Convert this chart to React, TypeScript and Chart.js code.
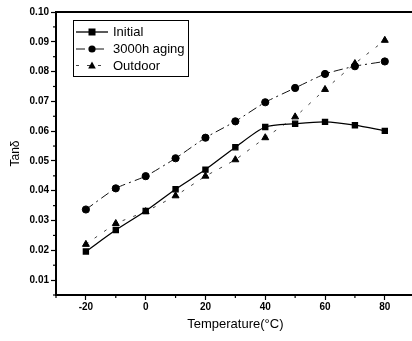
import React, { useEffect, useRef } from "react";
import { Chart, registerables } from "chart.js";
Chart.register(...registerables);

const temperatures = [-20, -10, 0, 10, 20, 30, 40, 50, 60, 70, 80];
const initialValues = [0.0196, 0.0268, 0.0332, 0.0405, 0.0471, 0.0546, 0.0614, 0.0625, 0.0631, 0.062, 0.0601];
const agingValues = [0.0337, 0.0408, 0.0449, 0.0509, 0.0578, 0.0633, 0.0697, 0.0745, 0.0792, 0.0818, 0.0834];
const outdoorValues = [0.022, 0.029, 0.033, 0.0383, 0.0449, 0.0504, 0.0578, 0.0648, 0.074, 0.0827, 0.0905];
const seriesLabels = ["Initial", "3000h aging", "Outdoor"];
const xTitle = "Temperature(\u00B0C)";
const yTitle = "Tan\u03B4";

const FONT = "'Liberation Sans', Arial, sans-serif";

function drawMarker(ctx: CanvasRenderingContext2D, style: string, x: number, y: number) {
  ctx.fillStyle = "#000";
  ctx.beginPath();
  if (style === "rect") {
    ctx.rect(x - 3.5, y - 3.5, 7, 7);
  } else if (style === "circle") {
    ctx.arc(x, y, 3.6, 0, Math.PI * 2);
  } else {
    ctx.moveTo(x, y - 4);
    ctx.lineTo(x + 3.8, y + 3);
    ctx.lineTo(x - 3.8, y + 3);
    ctx.closePath();
  }
  ctx.fill();
}

const framePlugin = {
  id: "frame",
  afterDraw(chart: any) {
    const ctx = chart.ctx as CanvasRenderingContext2D;
    const { left, right, top, bottom } = chart.chartArea;
    ctx.save();
    ctx.strokeStyle = "#000";
    ctx.lineWidth = 2;
    ctx.beginPath();
    ctx.moveTo(left, top);
    ctx.lineTo(right + 5, top);
    ctx.stroke();
    ctx.lineWidth = 1.2;
    const xs = chart.scales.x;
    xs.ticks.forEach((t: any) => {
      if (Math.round(t.value) % 20 !== 0) {
        const px = xs.getPixelForValue(t.value);
        ctx.beginPath();
        ctx.moveTo(px, bottom);
        ctx.lineTo(px, bottom + 3);
        ctx.stroke();
      }
    });
    const ys = chart.scales.y;
    ys.ticks.forEach((t: any) => {
      if (Math.round(t.value * 1000) % 10 !== 0) {
        const py = ys.getPixelForValue(t.value);
        ctx.beginPath();
        ctx.moveTo(left, py);
        ctx.lineTo(left - 3, py);
        ctx.stroke();
      }
    });
    const bx = 73.5, by = 20.5, bw = 115, bh = 56;
    ctx.lineWidth = 1;
    ctx.strokeStyle = "#000";
    ctx.strokeRect(bx, by, bw, bh);
    const rows = [32, 49, 65.5];
    chart.data.datasets.forEach((ds: any, i: number) => {
      const y = rows[i];
      ctx.save();
      ctx.strokeStyle = ds.borderColor;
      ctx.lineWidth = ds.borderWidth;
      ctx.setLineDash(ds.borderDash || []);
      ctx.beginPath();
      ctx.moveTo(76, y);
      ctx.lineTo(108, y);
      ctx.stroke();
      ctx.restore();
      drawMarker(ctx, ds.pointStyle, 92, y);
      ctx.fillStyle = "#000";
      ctx.font = `13px ${FONT}`;
      ctx.textBaseline = "middle";
      ctx.textAlign = "left";
      ctx.fillText(ds.label, 113, y + 0.5);
    });
    ctx.restore();
  },
};

export default function App() {
  const ref = useRef<HTMLCanvasElement | null>(null);
  useEffect(() => {
    if (!ref.current) return;
    const tickFont = { family: FONT, size: 10, weight: "bold" as const };
    const chart = new Chart(ref.current, {
      type: "line",
      data: {
        datasets: [
          {
            label: seriesLabels[0],
            data: temperatures.map((t, i) => ({ x: t, y: initialValues[i] })),
            borderColor: "#000",
            borderWidth: 1.3,
            pointStyle: "rect",
            pointRadius: 3.6,
            pointBackgroundColor: "#000",
            pointBorderColor: "#000",
            tension: 0.25,
          },
          {
            label: seriesLabels[1],
            data: temperatures.map((t, i) => ({ x: t, y: agingValues[i] })),
            borderColor: "#111",
            borderWidth: 1,
            borderDash: [9, 4, 2, 4],
            pointStyle: "circle",
            pointRadius: 3.6,
            pointBackgroundColor: "#000",
            pointBorderColor: "#000",
            tension: 0.2,
          },
          {
            label: seriesLabels[2],
            data: temperatures.map((t, i) => ({ x: t, y: outdoorValues[i] })),
            borderColor: "#444",
            borderWidth: 1,
            borderDash: [3, 8],
            pointStyle: "triangle",
            pointRadius: 4,
            pointBackgroundColor: "#000",
            pointBorderColor: "#000",
            tension: 0.1,
          },
        ],
      },
      options: {
        animation: false,
        responsive: true,
        maintainAspectRatio: false,
        layout: { padding: { top: 12, right: 3, left: 0, bottom: 0 } },
        plugins: { legend: { display: false }, tooltip: { enabled: false } },
        scales: {
          x: {
            type: "linear",
            min: -30,
            max: 90,
            afterFit: (s: any) => {
              s.height = 46;
            },
            ticks: {
              stepSize: 10,
              autoSkip: false,
              maxRotation: 0,
              color: "#000",
              font: tickFont,
              padding: 1,
              callback: (v: any) => (Math.round(v) % 20 === 0 ? String(v) : ""),
            },
            grid: {
              display: true,
              drawOnChartArea: false,
              drawTicks: true,
              tickLength: 5,
              tickWidth: 1.2,
              tickColor: (c: any) => (c.tick && Math.round(c.tick.value) % 20 === 0 ? "#000" : "rgba(0,0,0,0)"),
            },
            border: { display: true, color: "#000", width: 2 },
            title: {
              display: true,
              text: xTitle,
              color: "#000",
              font: { family: FONT, size: 13 },
              padding: { top: 0, bottom: 9 },
            },
          },
          y: {
            min: 0.005,
            max: 0.1,
            afterFit: (s: any) => {
              s.width = 56;
            },
            ticks: {
              stepSize: 0.005,
              autoSkip: false,
              color: "#000",
              font: tickFont,
              padding: 2,
              callback: (v: any) => (Math.round(v * 1000) % 10 === 0 ? Number(v).toFixed(2) : ""),
            },
            grid: {
              display: true,
              drawOnChartArea: false,
              drawTicks: true,
              tickLength: 5,
              tickWidth: 1.2,
              tickColor: (c: any) =>
                c.tick && Math.round(c.tick.value * 1000) % 10 === 0 ? "#000" : "rgba(0,0,0,0)",
            },
            border: { display: true, color: "#000", width: 2 },
            title: {
              display: true,
              text: yTitle,
              color: "#000",
              font: { family: FONT, size: 12 },
              padding: { top: 8, bottom: 0 },
            },
          },
        },
      },
      plugins: [framePlugin],
    });
    return () => chart.destroy();
  }, []);
  return (
    <div style={{ position: "fixed", left: 0, top: 0, width: 412, height: 341, overflow: "hidden", background: "#fff" }}>
      <div style={{ position: "relative", width: 420, height: 341 }}>
        <canvas ref={ref} />
      </div>
    </div>
  );
}
